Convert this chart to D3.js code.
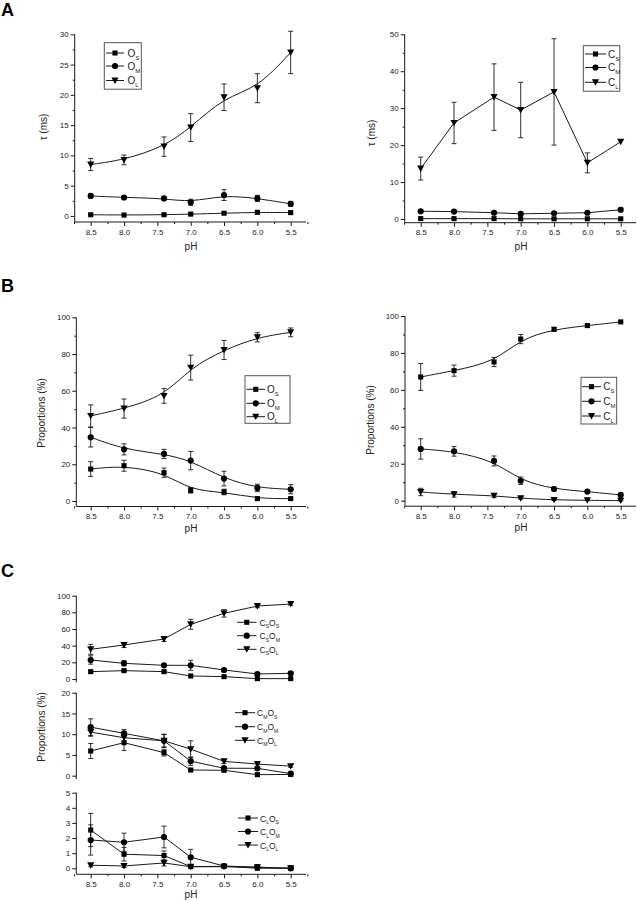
<!DOCTYPE html>
<html><head><meta charset="utf-8">
<script src="https://cdn.jsdelivr.net/npm/d3@7"></script>
<style>
body{margin:0;background:#fff;}
text{font-family:"Liberation Sans",Arial,sans-serif;fill:#222;}
</style></head>
<body><svg id="c" width="637" height="900"></svg>
<script>
// ---------- DATA ----------
const pH = [8.5, 8.0, 7.4, 7.0, 6.5, 6.0, 5.5];
const xTickValues = [8.5, 8.0, 7.5, 7.0, 6.5, 6.0, 5.5];

// Panel A left: open-state dwell times (ms)
const tauOS = [0.2, 0.15, 0.2, 0.3, 0.45, 0.6, 0.55];
const tauOSErr = [0.1, 0.1, 0.1, 0.1, 0.1, 0.1, 0.1];
const tauOM = [3.3, 3.05, 2.9, 2.25, 3.45, 2.9, 2.0];
const tauOMErr = [0.3, 0.2, 0.2, 0.5, 0.9, 0.5, 0.4];
const tauOL = [8.5, 9.25, 11.45, 14.6, 19.6, 21.1, 27.0];
const tauOLErr = [1.0, 0.8, 1.6, 2.3, 2.2, 2.4, 3.5];

// Panel A right: closed-state dwell times (ms)
const tauCS = [0.1, 0.1, 0.1, 0.05, 0.05, 0.05, 0.05];
const tauCSErr = [0.05, 0.05, 0.05, 0.05, 0.05, 0.05, 0.05];
const tauCM = [2.1, 2.0, 1.7, 1.4, 1.55, 1.7, 2.5];
const tauCMErr = [0.3, 0.2, 0.2, 0.2, 0.2, 0.2, 0.5];
const tauCL = [13.65, 26.0, 33.0, 29.5, 34.4, 15.2, 20.9];
const tauCLErr = [3.1, 5.6, 9.0, 7.5, 14.4, 2.7, 0];

// Panel B left: open-state proportions (%)
const propOS = [17.4, 19.2, 15.4, 5.8, 4.9, 1.3, 1.3];
const propOSErr = [4, 3, 2.5, 1.5, 1.5, 0.5, 0.5];
const propOM = [34.7, 28.1, 25.6, 22.0, 12.2, 7.1, 6.4];
const propOMErr = [5.3, 3, 2.5, 5, 4, 2, 2.5];
const propOL = [46.3, 50.3, 57.2, 72.6, 82.2, 89.1, 91.8];
const propOLErr = [6, 5.2, 4, 6.8, 5.2, 2.5, 2.4];

// Panel B right: closed-state proportions (%)
const propCS = [67.0, 70.4, 75.1, 87.5, 92.8, 94.8, 96.8];
const propCSErr = [7.3, 3, 2.5, 2.5, 1, 1, 0.5];
const propCM = [28.0, 26.7, 21.5, 10.8, 6.3, 4.9, 3.1];
const propCMErr = [5.5, 2.6, 2.7, 2, 1, 0.8, 0.5];
const propCL = [4.7, 3.4, 2.7, 1.3, 0.4, 0.2, 0];
const propCLErr = [2, 1.5, 1, 0.5, 0.3, 0.2, 0.1];

// Panel C: joint proportions (%)
const csOS = [8.8, 10, 8.8, 3.6, 2.8, 0.4, 0.4];
const csOSErr = [1, 1, 1, 0.5, 0.5, 0.3, 0.3];
const csOM = [22.8, 18.8, 16.4, 16.4, 10.8, 6, 6.8];
const csOMErr = [5, 3, 1, 6, 2, 1, 1];
const csOL = [35.6, 40.8, 48, 65.6, 78.8, 87.6, 90];
const csOLErr = [6, 3, 3, 6, 4.5, 2, 1.5];

const cmOS = [5.95, 7.95, 5.55, 1.37, 1.3, 0.24, 0.3];
const cmOSErr = [1.8, 1.9, 0.8, 0.3, 0.3, 0.1, 0.1];
const cmOM = [11.7, 10.2, 8.4, 3.5, 1.8, 1.77, 0.5];
const cmOMErr = [2, 0.9, 1.5, 1, 0.3, 0.4, 0.2];
const cmOL = [10.5, 9.15, 8.4, 6.4, 3.45, 2.8, 2.3];
const cmOLErr = [1, 1, 1.6, 2, 0.5, 0.6, 0.3];

const clOS = [2.53, 0.93, 0.84, 0.11, 0.13, 0, 0];
const clOSErr = [1.1, 0.45, 0.3, 0.05, 0.05, 0.05, 0.05];
const clOM = [1.87, 1.72, 2.07, 0.73, 0.15, 0.07, 0];
const clOMErr = [1.0, 0.6, 0.72, 0.52, 0.05, 0.05, 0.05];
const clOL = [0.2, 0.15, 0.35, 0.1, 0.1, 0.07, 0];
const clOLErr = [0.1, 0.1, 0.2, 0.05, 0.05, 0.05, 0.05];

// ---------- DRAWING ----------
const svg = d3.select("#c");
const INK = "#1a1a1a";

function symbolPath(type) {
  if (type === "square") return d3.symbol(d3.symbolSquare, 26)();
  if (type === "circle") return d3.symbol(d3.symbolCircle, 30)();
  return "M-3.6,-3 L3.6,-3 L0,3.4 Z"; // down triangle
}

function labelText(g, x, y, parts, size, anchor) {
  const t = g.append("text").attr("x", x).attr("y", y)
    .attr("font-size", size).attr("text-anchor", anchor || "start");
  parts.forEach(([s, sub]) => {
    if (sub) {
      t.append("tspan").text(s).attr("font-size", size * 0.6).attr("dy", size * 0.3);
    } else {
      const ts = t.append("tspan").text(s);
      ts.attr("dy", t.selectAll("tspan").size() > 1 ? -size * 0.3 : 0);
    }
  });
  return t;
}

function drawAxes(cfg, x, y, showX) {
  const g = svg.append("g");
  // y axis
  g.append("g").attr("transform", `translate(${cfg.axisX},0)`)
    .call(d3.axisLeft(y).tickValues(cfg.yTicks).tickSize(4).tickPadding(2).tickFormat(d3.format("d")))
    .call(a => { a.select(".domain").attr("stroke", INK).attr("d", `M0,${y.range()[0]}V${y.range()[1]}`); a.selectAll("line").attr("stroke", INK); a.selectAll("text").attr("font-size", 8).attr("fill", "#222").attr("font-family", "Liberation Sans, Arial"); });
  if (cfg.yMinor) {
    g.append("g").attr("transform", `translate(${cfg.axisX},0)`)
      .call(d3.axisLeft(y).tickValues(cfg.yMinor).tickSize(2).tickFormat(""))
      .call(a => { a.select(".domain").remove(); a.selectAll("line").attr("stroke", INK); });
  }
  if (showX) {
    const by = y.range()[0];
    const xa = g.append("g").attr("transform", `translate(0,${by})`)
      .call(d3.axisBottom(x).tickValues(xTickValues).tickSize(4).tickPadding(3).tickFormat(d3.format(".1f")))
      .call(a => { a.select(".domain").attr("stroke", INK).attr("d", `M${cfg.axisX},0H${cfg.axisEnd}`); a.selectAll("line").attr("stroke", INK); a.selectAll("text").attr("font-size", 8).attr("fill", "#222").attr("font-family", "Liberation Sans, Arial"); });
    const minor = d3.range(8.75, 5.2, -0.5);
    g.append("g").attr("transform", `translate(0,${by})`)
      .call(d3.axisBottom(x).tickValues(minor).tickSize(2).tickFormat(""))
      .call(a => { a.select(".domain").remove(); a.selectAll("line").attr("stroke", INK); });
  }
}

function drawSeries(x, y, vals, errs, sym, curve) {
  const g = svg.append("g");
  const pts = pH.map((p, i) => ({ p, v: vals[i], e: errs[i] }));
  g.append("path").datum(pts)
    .attr("d", d3.line().x(d => x(d.p)).y(d => y(d.v)).curve(curve))
    .attr("fill", "none").attr("stroke", INK).attr("stroke-width", 1);
  pts.forEach(d => {
    if (d.e > 0) {
      const y1 = y(d.v + d.e), y2 = y(d.v - d.e), cx = x(d.p);
      g.append("path").attr("d", `M${cx},${y1}V${y2}M${cx - 2.5},${y1}H${cx + 2.5}M${cx - 2.5},${y2}H${cx + 2.5}`)
        .attr("stroke", INK).attr("stroke-width", 0.9).attr("fill", "none");
    }
  });
  g.selectAll("path.m").data(pts).enter().append("path").attr("class", "m")
    .attr("d", symbolPath(sym)).attr("transform", d => `translate(${x(d.p)},${y(d.v)})`)
    .attr("fill", "#000");
}

function drawLegend(lg) {
  const g = svg.append("g");
  if (lg.box) {
    g.append("rect").attr("x", lg.box[0]).attr("y", lg.box[1]).attr("width", lg.box[2]).attr("height", lg.box[3])
      .attr("fill", "#fff").attr("stroke", "#555").attr("stroke-width", 1);
  }
  lg.items.forEach((it, i) => {
    const yy = lg.ys[i];
    g.append("line").attr("x1", lg.x1).attr("x2", lg.x2).attr("y1", yy).attr("y2", yy).attr("stroke", INK);
    g.append("path").attr("d", symbolPath(it.sym)).attr("transform", `translate(${(lg.x1 + lg.x2) / 2},${yy})`).attr("fill", "#000");
    labelText(g, lg.tx, yy + 3.5, it.parts, lg.size || 10);
  });
}

function panel(cfg) {
  const x = d3.scaleLinear().domain([8.5, 5.5]).range([cfg.x0, cfg.x0 + 200]);
  const y = d3.scaleLinear().domain(cfg.yDomain).range(cfg.yRange);
  drawAxes(cfg, x, y, cfg.showX !== false);
  cfg.series.forEach(s => drawSeries(x, y, s.v, s.e, s.sym, s.curve || d3.curveLinear));
  if (cfg.legend) drawLegend(cfg.legend);
}

const O = (s) => [["O", false], [s, true]];
const C = (s) => [["C", false], [s, true]];
const CO = (a, b) => [["C", false], [a, true], ["O", false], [b, true]];

// Panel A left
panel({
  axisX: 74.7, axisEnd: 306, x0: 90.7, yDomain: [-1, 30], yRange: [222, 34.3],
  yTicks: d3.range(0, 31, 5), yMinor: d3.range(2.5, 30, 5),
  series: [
    { v: tauOS, e: tauOSErr, sym: "square", curve: d3.curveBasis },
    { v: tauOM, e: tauOMErr, sym: "circle", curve: d3.curveBasis },
    { v: tauOL, e: tauOLErr, sym: "tri", curve: d3.curveBasis }],
  legend: { box: [104.3, 42.7, 37, 46.5], x1: 106, x2: 124, tx: 127.5, ys: [53, 66, 80.5],
    items: [{ sym: "square", parts: O("S") }, { sym: "circle", parts: O("M") }, { sym: "tri", parts: O("L") }] }
});
// Panel A right
panel({
  axisX: 404.7, axisEnd: 636, x0: 420.7, yDomain: [-1, 50], yRange: [222.7, 34.3],
  yTicks: d3.range(0, 51, 10), yMinor: d3.range(5, 50, 10),
  series: [
    { v: tauCS, e: tauCSErr, sym: "square" },
    { v: tauCM, e: tauCMErr, sym: "circle" },
    { v: tauCL, e: tauCLErr, sym: "tri" }],
  legend: { box: [583.3, 45.7, 36.5, 45.5], x1: 585, x2: 606, tx: 608, ys: [54, 67.5, 82.3],
    items: [{ sym: "square", parts: C("S") }, { sym: "circle", parts: C("M") }, { sym: "tri", parts: C("L") }] }
});
// Panel B left
panel({
  axisX: 76.3, axisEnd: 306, x0: 90.7, yDomain: [-3, 100], yRange: [506.5, 317.3],
  yTicks: d3.range(0, 101, 20), yMinor: d3.range(10, 100, 20),
  series: [
    { v: propOS, e: propOSErr, sym: "square", curve: d3.curveBasis },
    { v: propOM, e: propOMErr, sym: "circle", curve: d3.curveBasis },
    { v: propOL, e: propOLErr, sym: "tri", curve: d3.curveBasis }],
  legend: { box: [245, 375.7, 45, 47.6], x1: 246.5, x2: 265, tx: 267, ys: [389.3, 403.3, 416.7],
    items: [{ sym: "square", parts: O("S") }, { sym: "circle", parts: O("M") }, { sym: "tri", parts: O("L") }] }
});
// Panel B right
panel({
  axisX: 405, axisEnd: 636, x0: 420.7, yDomain: [-3, 100], yRange: [506.2, 316],
  yTicks: d3.range(0, 101, 20), yMinor: d3.range(10, 100, 20),
  series: [
    { v: propCS, e: propCSErr, sym: "square", curve: d3.curveBasis },
    { v: propCM, e: propCMErr, sym: "circle", curve: d3.curveBasis },
    { v: propCL, e: propCLErr, sym: "tri", curve: d3.curveBasis }],
  legend: { box: [581, 377.3, 35.7, 46.7], x1: 582, x2: 601, tx: 603.3, ys: [386.7, 401.3, 416],
    items: [{ sym: "square", parts: C("S") }, { sym: "circle", parts: C("M") }, { sym: "tri", parts: C("L") }] }
});
// Panel C top
panel({
  axisX: 76.3, axisEnd: 306, x0: 90.7, yDomain: [-4, 100], yRange: [682.3, 595.7], showX: false,
  yTicks: d3.range(0, 101, 20),
  series: [
    { v: csOS, e: csOSErr, sym: "square" },
    { v: csOM, e: csOMErr, sym: "circle" },
    { v: csOL, e: csOLErr, sym: "tri" }],
  legend: { x1: 237, x2: 256.5, tx: 259.5, ys: [622.3, 635.7, 649.3], size: 8.5,
    items: [{ sym: "square", parts: CO("S", "S") }, { sym: "circle", parts: CO("S", "M") }, { sym: "tri", parts: CO("S", "L") }] }
});
// Panel C middle
panel({
  axisX: 76.3, axisEnd: 306, x0: 90.7, yDomain: [-0.8, 20], yRange: [779, 692.7], showX: false,
  yTicks: d3.range(0, 21, 5),
  series: [
    { v: cmOS, e: cmOSErr, sym: "square" },
    { v: cmOM, e: cmOMErr, sym: "circle" },
    { v: cmOL, e: cmOLErr, sym: "tri" }],
  legend: { x1: 235, x2: 255, tx: 257, ys: [712.7, 726.7, 740.3], size: 8.5,
    items: [{ sym: "square", parts: CO("M", "S") }, { sym: "circle", parts: CO("M", "M") }, { sym: "tri", parts: CO("M", "L") }] }
});
// Panel C bottom
panel({
  axisX: 76.3, axisEnd: 306, x0: 90.7, yDomain: [-0.4, 5], yRange: [874.3, 792.7],
  yTicks: d3.range(0, 6, 1),
  series: [
    { v: clOS, e: clOSErr, sym: "square" },
    { v: clOM, e: clOMErr, sym: "circle" },
    { v: clOL, e: clOLErr, sym: "tri" }],
  legend: { x1: 238, x2: 258, tx: 260, ys: [818, 831.5, 845], size: 8.5,
    items: [{ sym: "square", parts: CO("L", "S") }, { sym: "circle", parts: CO("L", "M") }, { sym: "tri", parts: CO("L", "L") }] }
});

// Axis titles
function title(x, y, txt, rot, size) {
  svg.append("text").attr("transform", `translate(${x},${y})${rot ? " rotate(-90)" : ""}`)
    .attr("text-anchor", "middle").attr("dominant-baseline", "middle").attr("font-size", size || 10).text(txt);
}
title(191, 247, "pH");
title(521, 247, "pH");
title(191, 529, "pH");
title(521, 528, "pH");
title(191, 895, "pH");
title(44, 127, "τ (ms)", true);
title(372, 133, "τ (ms)", true);
title(42.5, 413, "Proportions (%)", true);
title(371.5, 420, "Proportions (%)", true);
title(42.5, 727, "Proportions (%)", true);

// Panel letters
[["A", 15.5], ["B", 292], ["C", 577]].forEach(([l, yy]) => {
  svg.append("text").attr("x", 1).attr("y", yy).attr("font-size", 18).attr("font-weight", "bold")
    .style("fill", "#000").text(l);
});
</script></body></html>
